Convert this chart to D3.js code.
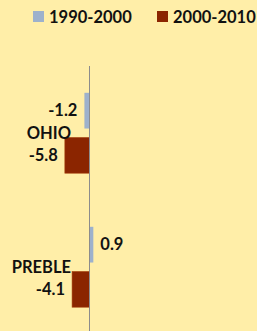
<!DOCTYPE html>
<html>
<head>
<meta charset="utf-8">
<script src="https://cdn.jsdelivr.net/npm/d3@7"></script>
<style>
  html, body { margin: 0; padding: 0; background: #FFEEA8; }
  text { font-family: Lato, "Liberation Sans", sans-serif; font-weight: bold; fill: #111; }
</style>
</head>
<body>
<div id="chart"></div>
<script>
// data
var categories = ["OHIO", "PREBLE"];
var seriesNames = ["1990-2000", "2000-2010"];
var values1990 = [-1.2, 0.9];
var values2000 = [-5.8, -4.1];
var seriesColors = ["#9DB1CC", "#8B2500"];

var width = 257, height = 331;

var svg = d3.select("#chart")
  .append("svg")
    .attr("width", width)
    .attr("height", height);

svg.append("rect")
  .attr("width", width).attr("height", height)
  .attr("fill", "#FFEEA8");

// rows = one per category, with both series inside
var rows = categories.map(function(c, i) {
  return { cat: c, vals: [
    { key: seriesNames[0], v: values1990[i] },
    { key: seriesNames[1], v: values2000[i] }
  ]};
});

var x = d3.scaleLinear()
  .domain([-20, 40])
  .range([4.5, 259.5]);

var y = d3.scaleBand()
  .domain(categories)
  .range([66, 334]);

var ySub = d3.scaleBand()
  .domain(seriesNames)
  .range([0, y.bandwidth()])
  .paddingInner(0.2)
  .paddingOuter(0.6);

var color = d3.scaleOrdinal()
  .domain(seriesNames)
  .range(seriesColors);

// bars
var groups = svg.selectAll("g.cat")
  .data(rows)
  .enter().append("g")
    .attr("class", "cat")
    .attr("transform", function(d) { return "translate(0," + y(d.cat) + ")"; });

groups.selectAll("rect")
  .data(function(d) { return d.vals; })
  .enter().append("rect")
    .attr("x", function(d) { return x(Math.min(0, d.v)); })
    .attr("y", function(d) { return ySub(d.key); })
    .attr("width", function(d) { return Math.abs(x(d.v) - x(0)); })
    .attr("height", ySub.bandwidth())
    .attr("fill", function(d) { return color(d.key); })
    .attr("stroke", function(d) { return d.key === seriesNames[1] ? "#A8440F" : "none"; })
    .attr("stroke-width", 0.6);

// data labels
groups.selectAll("text.val")
  .data(function(d) { return d.vals; })
  .enter().append("text")
    .attr("class", "val")
    .attr("x", function(d) { return d.v < 0 ? x(d.v) - 7 : x(d.v) + 7; })
    .attr("y", function(d) { return ySub(d.key) + ySub.bandwidth() / 2; })
    .attr("dy", "0.35em")
    .attr("text-anchor", function(d) { return d.v < 0 ? "end" : "start"; })
    .style("font-size", "16.5px")
    .text(function(d) { return d.v.toFixed(1); });

// zero axis
svg.append("line")
  .attr("x1", x(0)).attr("x2", x(0))
  .attr("y1", 66).attr("y2", height)
  .attr("stroke", "#8C8C8C")
  .attr("stroke-width", 1);

// category labels
svg.selectAll("text.cat")
  .data(categories)
  .enter().append("text")
    .attr("class", "cat")
    .attr("x", x(0) - 18.5)
    .attr("y", function(d) { return y(d) + y.bandwidth() / 2; })
    .attr("dy", "0.35em")
    .attr("text-anchor", "end")
    .style("font-size", "16.5px")
    .text(function(d) { return d; });

// legend
var legendX = [33, 157];
var legend = svg.selectAll("g.legend")
  .data(seriesNames)
  .enter().append("g")
    .attr("class", "legend")
    .attr("transform", function(d, i) { return "translate(" + legendX[i] + ",11)"; });

legend.append("rect")
  .attr("width", 11).attr("height", 11)
  .attr("fill", function(d) { return color(d); });

legend.append("text")
  .attr("x", 16)
  .attr("y", 12)
  .style("font-size", "16.5px")
  .text(function(d) { return d; });
</script>
</body>
</html>
